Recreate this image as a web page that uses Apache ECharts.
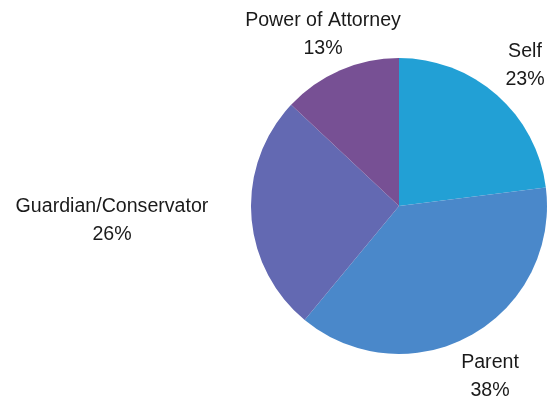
<!DOCTYPE html>
<html>
<head>
<meta charset="utf-8">
<script src="https://cdn.jsdelivr.net/npm/echarts@6/dist/echarts.min.js"></script>
<style>
  html, body { margin: 0; padding: 0; background: #ffffff; }
  #chart { width: 558px; height: 396px; }
</style>
</head>
<body>
<div id="chart"></div>
<script>
// Who signs for the participant
const categories = ['Self', 'Parent', 'Guardian/Conservator', 'Power of Attorney'];
const shares = [23, 38, 26, 13];
const sliceColors = ['#22a0d5', '#4a88ca', '#6369b2', '#775094'];

// Label anchor points (centre of the two-line label), in pixels
const labelAnchors = [
  [525, 66],
  [490, 377],
  [112, 221],
  [323, 35]
];

const chart = echarts.init(document.getElementById('chart'), null, { renderer: 'canvas' });

chart.setOption({
  animation: false,
  series: [{
    type: 'pie',
    center: [399, 206],
    radius: 148,
    startAngle: 90,
    clockwise: true,
    silent: true,
    avoidLabelOverlap: false,
    data: categories.map((name, i) => ({
      name: name,
      value: shares[i],
      itemStyle: { color: sliceColors[i] }
    })),
    label: {
      show: true,
      position: 'inside',
      overflow: 'none',
      formatter: p => p.name + '\n' + p.value + '%',
      fontFamily: 'Liberation Sans, Arial, sans-serif',
      fontSize: 19.6,
      lineHeight: 28,
      color: '#1a1a1a',
      align: 'center'
    },
    labelLine: { show: false },
    labelLayout: p => ({
      x: labelAnchors[p.dataIndex][0],
      y: labelAnchors[p.dataIndex][1],
      align: 'center',
      verticalAlign: 'middle',
      hideOverlap: false,
      moveOverlap: null
    }),
    itemStyle: { borderWidth: 0 }
  }]
});
</script>
</body>
</html>
